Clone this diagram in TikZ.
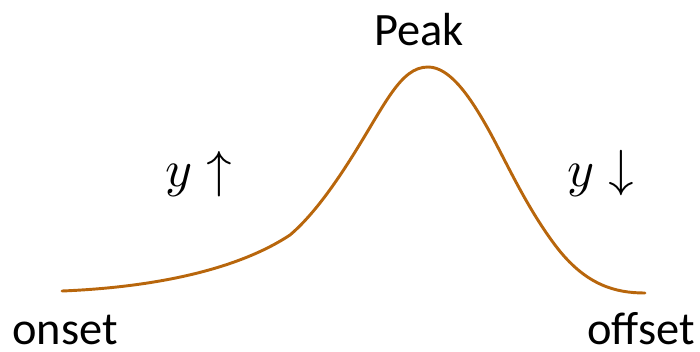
\documentclass[tikz,border=0pt]{standalone}
\usepackage{fontspec}
\usepackage{unicode-math}
\setmainfont{Carlito}
\setmathfont{Latin Modern Math}
\usepackage{xcolor}
\usepackage{tikz}
\definecolor{curvebrown}{RGB}{184,102,12}

\begin{document}
\begin{tikzpicture}[x=0.03cm,y=-0.03cm,label/.style={font=\fontsize{39.6}{44}\selectfont,anchor=base,inner sep=0pt},mathlabel/.style={label,font=\fontsize{44}{48}\selectfont},curve/.style={draw=curvebrown,line width=2.5pt,line cap=round,line join=round}]
\useasboundingbox (0,0) rectangle (700,351);
\node[label] (peak) at (419,45) {Peak};
\node[label] (onset) at (65,344) {onset};
\node[label] (offset) at (641,344) {offset};
\node[mathlabel] (rise) at (199,186) {$y\uparrow$};
\node[mathlabel] (fall) at (601,186) {$y\downarrow$};
% rising flank, peak, falling flank
\draw[curve] (62,291) .. controls (160,287) and (240,268) .. (290,235)
  .. controls (310,218) and (330,191.4) .. (350,160)
  .. controls (385,105) and (400,67) .. (428,67)
  .. controls (450,67) and (470,97) .. (487,127)
  .. controls (505,159) and (525,205) .. (555,245)
  .. controls (585,285) and (615,293) .. (645,293);
\end{tikzpicture}
\end{document}
